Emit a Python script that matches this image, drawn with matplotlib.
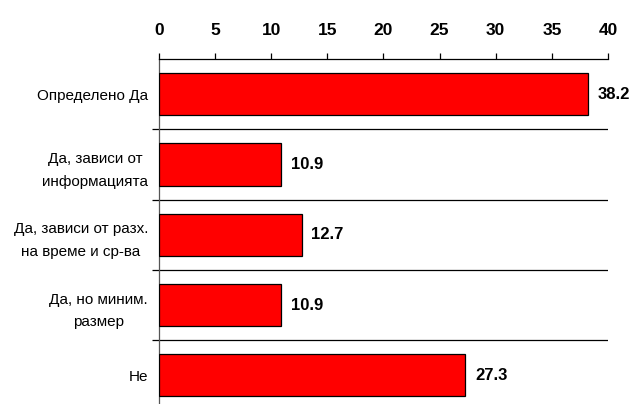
import numpy as np
import matplotlib.pyplot as plt
from matplotlib import font_manager

# Data
categories = [
    "Определено Да",
    "Да, зависи от\nинформацията",
    "Да, зависи от разх.\nна време и ср-ва",
    "Да, но миним.\nразмер",
    "Не",
]
values = [38.2, 10.9, 12.7, 10.9, 27.3]
x_ticks = [0, 5, 10, 15, 20, 25, 30, 35, 40]

names = {f.name for f in font_manager.fontManager.ttflist}
narrow = "Liberation Sans Narrow" if "Liberation Sans Narrow" in names else "Liberation Sans"
plt.rcParams["font.family"] = [narrow, "DejaVu Sans"]

fig = plt.figure(figsize=(6.31, 4.04), dpi=100)
ax = fig.add_axes([0.252, -0.016, 0.7115, 0.870])

y = np.arange(len(categories))
ax.barh(y, values, height=0.6, color="#ff0000", edgecolor="black", linewidth=0.9, zorder=3)

# separators between categories
for b in np.arange(0.5, len(categories) - 0.5, 1):
    ax.plot([0, 40], [b, b], color="black", linewidth=0.9, zorder=2)

# value labels
for yi, v in zip(y, values):
    ax.annotate(f"{v:.1f}", (v, yi), xytext=(7, 0), textcoords="offset points",
                va="center", ha="left", fontsize=12, fontweight="bold")

ax.set_xlim(0, 40)
ax.set_ylim(len(categories) - 0.5, -0.5)
ax.xaxis.tick_top()
ax.set_xticks(x_ticks)
ax.set_xticklabels([str(t) for t in x_ticks], fontsize=12.5, fontweight="bold")
ax.tick_params(axis="x", direction="out", length=4, width=0.9, pad=11)

ax.set_yticks(y)
ax.set_yticklabels(categories, fontsize=11, multialignment="center", linespacing=1.8)
ax.tick_params(axis="y", which="major", length=0, pad=8)
ax.set_yticks(np.arange(0.5, len(categories) - 0.5, 1), minor=True)
ax.tick_params(axis="y", which="minor", direction="out", length=5, width=0.9)

for s in ["right", "bottom"]:
    ax.spines[s].set_visible(False)
ax.spines["top"].set_linewidth(0.9)
ax.spines["left"].set_linewidth(0.9)
ax.spines["left"].set_color("#555555")

plt.savefig("out.png", dpi=100)
plt.close()
